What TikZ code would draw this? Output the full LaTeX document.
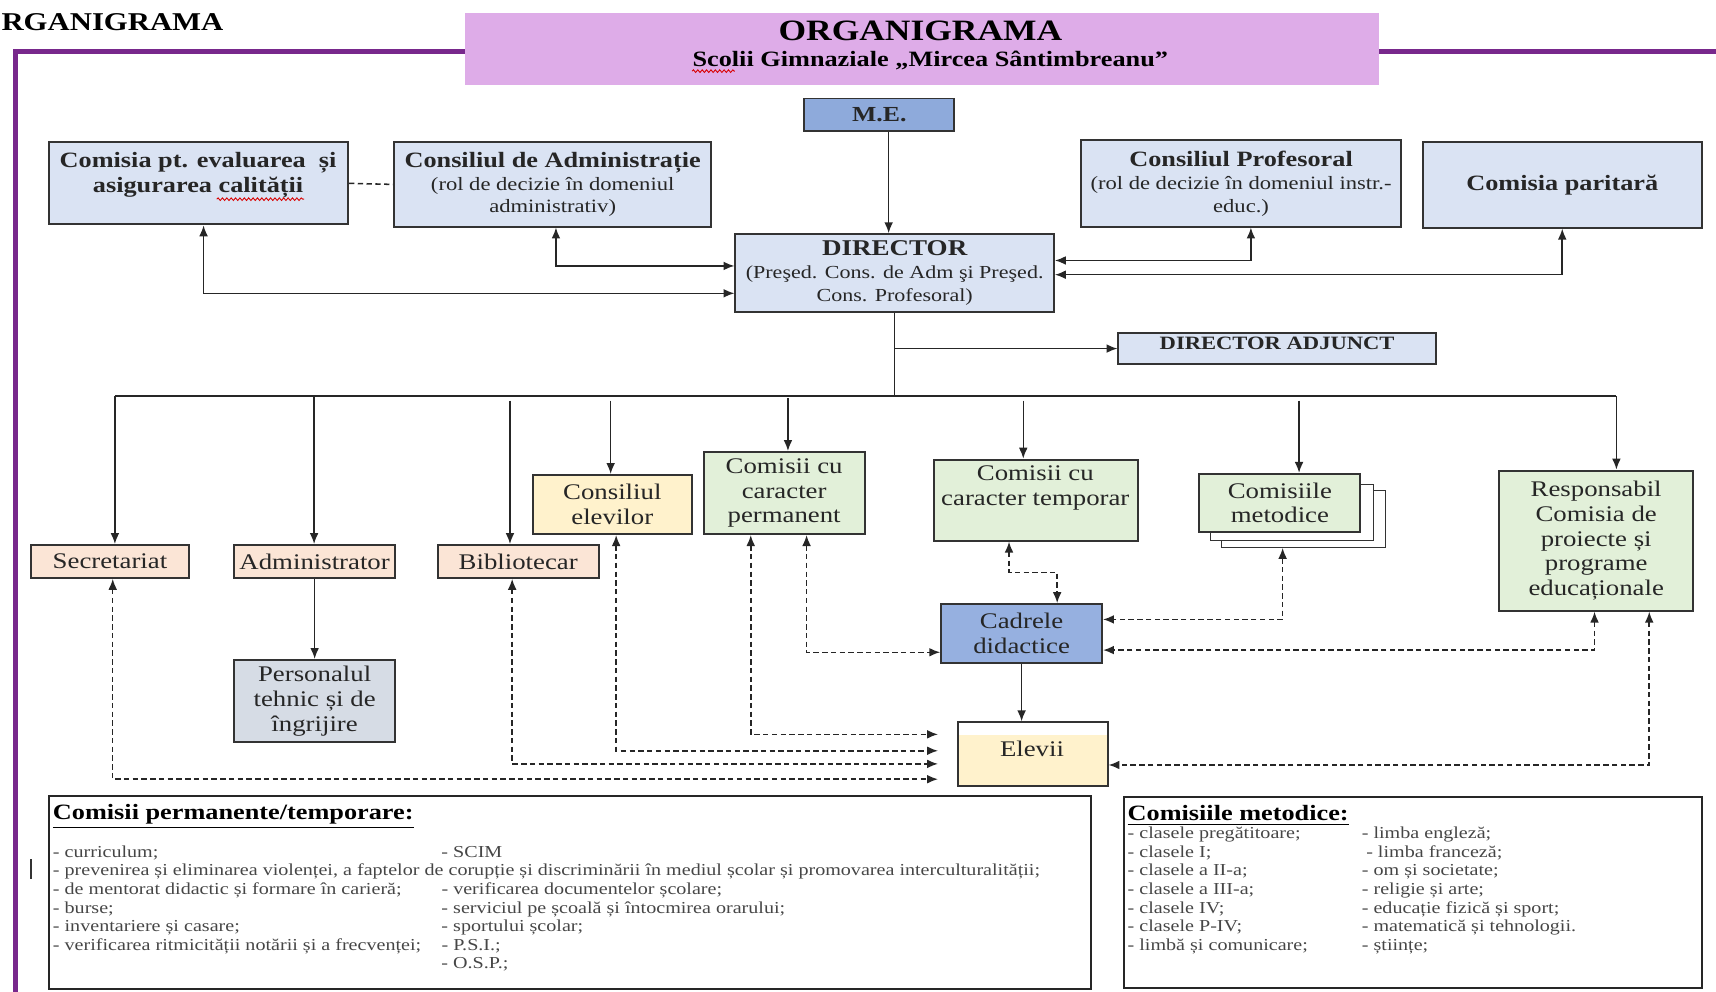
\documentclass[tikz,border=0pt]{standalone}
\usepackage{fontspec}
\setmainfont{Liberation Serif}[FakeStretch=1.2]
\usetikzlibrary{arrows.meta,calc,decorations.pathmorphing}
\definecolor{titlepurple}{RGB}{222,172,232}
\definecolor{framepurple}{RGB}{120,40,140}
\definecolor{meblue}{RGB}{142,170,219}
\definecolor{boxblue}{RGB}{218,227,243}
\definecolor{peach}{RGB}{251,229,214}
\definecolor{lyellow}{RGB}{255,242,204}
\definecolor{lgreen}{RGB}{226,240,217}
\definecolor{greyblue}{RGB}{214,220,229}
\definecolor{cadblue}{RGB}{150,176,224}
\definecolor{txtgrey}{RGB}{70,70,70}
\newcommand\fsz[2]{\fontsize{#1}{#2}\selectfont}
\newcommand\hdr{\fsz{10}{11.5}\bfseries}
\begin{document}
\begin{tikzpicture}[x=0.5pt,y=-0.5pt,
  bxat/.style n args={4}{minimum width={(#3-#1)*0.5pt}, minimum height={(#4-#2)*0.5pt}, at={({(#1+#3)/2},{(#2+#4)/2})}},
  orgbox/.style={draw=black!80, line width=0.9pt, inner sep=0pt, align=center, text=black!85, font=\fsz{10.2}{11.3}},
  lbl/.style={inner sep=0pt, align=center, text=black!85},
  conn/.style={line width=0.7pt, draw=black!85},
  dsh/.style={conn, dash pattern=on 2.5pt off 1.5pt},
  >={Latex[length=5pt,width=4pt]},
  squig/.style={red!85!black, line width=0.4pt, decorate, decoration={snake, amplitude=0.6pt, segment length=2pt}}
]
\useasboundingbox (0,0) rectangle (1568,906);
% frame
\draw[framepurple, line width=2pt, line cap=rect] (440,47) -- (14,47) -- (14,912);
\draw[framepurple, line width=2pt] (1250,47) -- (1580,47);
% top-left title
\node[anchor=base west, inner sep=0pt, font=\fsz{11.7}{14}\bfseries] (otl) at (1,28) {RGANIGRAMA};
% title box
\node[fill=titlepurple, inner sep=0pt, bxat={425}{12}{1260}{78}] (ttl) {};
\node[anchor=base, inner sep=0pt, font=\fsz{13.5}{16}\bfseries] (ttl1) at (841,37) {ORGANIGRAMA};
\node[anchor=base, inner sep=0pt, font=\fsz{10}{12}\bfseries] (ttl2) at (850,61) {Scolii Gimnaziale „Mircea Sântimbreanu”};
\draw[squig] (ttl2.base west) ++(0,4) -- ++(39,0);
% top row
\node[orgbox, fill=meblue, bxat={735}{90}{872}{120}, font=\fsz{9.8}{11}\bfseries] (me) {M.E.};
\node[orgbox, fill=boxblue, bxat={45}{130}{318}{205}] (cpe) {};
\node[lbl, font=\hdr] (cpet) at (181,160) {Comisia pt. evaluarea \ și\\asigurarea calității};
\draw[squig] (198,182) -- (278,182);
\node[orgbox, fill=boxblue, bxat={360}{130}{650}{207}, font=\fsz{8.6}{10.5}] (cad) {{\hdr Consiliul de Administrație}\\(rol de decizie în domeniul\\administrativ)};
\node[orgbox, fill=boxblue, bxat={988}{128}{1280}{207}, font=\fsz{8.6}{10.5}] (cpr) {{\hdr Consiliul Profesoral}\\(rol de decizie în domeniul instr.-\\educ.)};
\node[orgbox, fill=boxblue, bxat={1300}{130}{1555}{208}, font=\hdr] (cpar) {Comisia paritară};
\node[orgbox, fill=boxblue, bxat={672}{214}{963}{285}, font=\fsz{8.4}{10.5}] (dir) {{\fsz{10.3}{11.5}\bfseries DIRECTOR}\\(Preşed. Cons. de Adm şi Preşed.\\Cons. Profesoral)};
\node[orgbox, fill=boxblue, bxat={1022}{304}{1312}{333}] (dadj) {};
\node[lbl, font=\fsz{8.6}{10}\bfseries] (dadjt) at (1167,314) {DIRECTOR ADJUNCT};
% second row
\node[orgbox, fill=peach, bxat={28}{498}{173}{528}] (sec) {Secretariat};
\node[orgbox, fill=peach, bxat={214}{498}{361}{528}] (adm) {Administrator};
\node[orgbox, fill=peach, bxat={400}{498}{547}{528}] (bib) {Bibliotecar};
\node[orgbox, fill=lyellow, bxat={487}{434}{632}{488}] (cel) {Consiliul\\elevilor};
\node[orgbox, fill=lgreen, bxat={643}{413}{790}{488}] (cperm) {Comisii cu\\caracter\\permanent};
\node[orgbox, fill=lgreen, bxat={853}{420}{1040}{494}] (ctemp) {};
\node[lbl, font=\fsz{10.2}{11.3}] (ctempt) at (946,446) {Comisii cu\\caracter temporar};
\node[orgbox, fill=white, line width=0.6pt, bxat={1116}{448}{1266}{500}] (pg3) {};
\node[orgbox, fill=white, line width=0.6pt, bxat={1106}{443}{1255}{494}] (pg2) {};
\node[orgbox, fill=lgreen, bxat={1096}{433}{1243}{486}] (cmet) {Comisiile\\metodice};
\node[orgbox, fill=lgreen, bxat={1370}{430}{1547}{558}] (resp) {Responsabil\\Comisia de\\proiecte și\\programe\\educaționale};
\node[orgbox, fill=greyblue, bxat={214}{603}{361}{678}] (pers) {Personalul\\tehnic și de\\îngrijire};
\node[orgbox, fill=cadblue, bxat={860}{552}{1007}{606}] (cadre) {Cadrele\\didactice};
\node[orgbox, fill=white, bxat={875}{660}{1012}{718},
  path picture={\fill[lyellow] ([yshift=-6pt]path picture bounding box.north west) rectangle (path picture bounding box.south east);}] (elevii) {};
\node[lbl, font=\fsz{10.2}{11.3}] (elevit) at (943,684) {Elevii};
% solid connectors
\coordinate (meo) at ($(me.south)+(8.5,0)$);
\draw[conn,->] (meo) -- (meo |- dir.north);
\draw[conn,<->] ($(cpe.south)+(4.5,0)$) |- ($(dir.west)+(0,18.5)$);
\draw[conn,<->] ($(cad.south)+(3,0)$) |- ($(dir.west)+(0,-6.5)$);
\draw[conn,<->] ($(cpr.south)+(9,0)$) |- ($(dir.east)+(0,-11.5)$);
\draw[conn,<->] (cpar.south) |- ($(dir.east)+(0,1.5)$);
\draw[dsh] (cpe.east) -- (cad.west);
\coordinate (busC) at (818,362);
\coordinate (busL) at (105,362);
\coordinate (busR) at (1477,362);
\draw[conn] (dir.south) -- (dir.south |- busC);
\draw[conn,->] (dir.south |- dadj.west) -- (dadj.west);
\draw[conn] (busL) -- (busR);
\coordinate (bA) at (287,362);
\coordinate (bB) at (466,366);
\coordinate (bC) at (558,366);
\coordinate (bD) at (720,364);
\coordinate (bE) at (935,366);
\coordinate (bF) at (1187,366);
\draw[conn,->] (busL) -- (busL |- sec.north);
\draw[conn,->] (bA) -- (bA |- adm.north);
\draw[conn,->] (bB) -- (bB |- bib.north);
\draw[conn,->] (bC) -- (bC |- cel.north);
\draw[conn,->] (bD) -- (bD |- cperm.north);
\draw[conn,->] (bE) -- (bE |- ctemp.north);
\draw[conn,->] (bF) -- (bF |- cmet.north);
\draw[conn,->] (busR) -- (busR |- resp.north);
\draw[conn,->] (adm.south) -- (pers.north);
\draw[conn,->] (cadre.south) -- (cadre.south |- elevii.north);
% dashed connectors
\draw[dsh,<->] ($(ctemp.south)+(-24.5,0)$) -- ++(0,28) -| ($(cadre.north)+(32.5,0)$);
\draw[dsh,<->] ($(pg3.south)+(-19,0)$) |- ($(cadre.east)+(0,-13)$);
\draw[dsh,<->] ($(resp.south)+(-1.5,0)$) |- ($(cadre.east)+(0,15)$);
\draw[dsh,<->] ($(resp.south)+(48.5,0)$) |- ($(elevii.east)+(0,10)$);
\draw[dsh,<->] ($(cperm.south)+(20.5,0)$) |- ($(cadre.west)+(0,17)$);
\draw[dsh,<->,shorten >=8.5pt] ($(cperm.south)+(-30.5,0)$) |- ($(elevii.west)+(0,-18)$);
\draw[dsh,<->,shorten >=8.5pt] ($(cel.south)+(3.5,0)$) |- ($(elevii.west)+(0,-3)$);
\draw[dsh,<->,shorten >=8.5pt] ($(bib.south)+(-5.5,0)$) |- ($(elevii.west)+(0,9)$);
\draw[dsh,<->,shorten >=8.5pt] ($(sec.south)+(2.5,0)$) |- ($(elevii.west)+(0,23)$);
% bottom boxes
\node[draw=black!85, line width=0.8pt, inner sep=0pt, bxat={45}{727}{997}{904}] (cpt) {};
\node[draw=black!85, line width=0.8pt, inner sep=0pt, bxat={1027}{728}{1555}{903}] (cmt) {};
\node[anchor=base west, inner sep=0pt, font=\fsz{10}{12}\bfseries] (cpth) at (48,749) {\underline{Comisii permanente/temporare:}};
\node[anchor=north west, inner sep=0pt, font=\fsz{7.65}{8.5}, text=txtgrey] (cptl) at (48,771) {%
\begin{tabular}{@{}p{177.5pt}@{}l@{}}
- curriculum; & - SCIM\\
\multicolumn{2}{@{}l@{}}{- prevenirea și eliminarea violenței, a faptelor de corupție și discriminării în mediul școlar și promovarea interculturalității;}\\
- de mentorat didactic și formare în carieră; & - verificarea documentelor școlare;\\
- burse; & - serviciul pe școală și întocmirea orarului;\\
- inventariere și casare; & - sportului școlar;\\
- verificarea ritmicității notării și a frecvenței; & - P.S.I.;\\
 & - O.S.P.;
\end{tabular}};
\node[anchor=base west, inner sep=0pt, font=\fsz{10}{12}\bfseries] (cmth) at (1030,750) {\underline{Comisiile metodice:}};
\node[anchor=north west, inner sep=0pt, font=\fsz{7.65}{8.5}, text=txtgrey] (cmtl) at (1030,754) {%
\begin{tabular}{@{}p{107pt}@{}l@{}}
- clasele pregătitoare; & - limba engleză;\\
- clasele I; & \hspace{2pt}- limba franceză;\\
- clasele a II-a; & - om și societate;\\
- clasele a III-a; & - religie și arte;\\
- clasele IV; & - educație fizică și sport;\\
- clasele P-IV; & - matematică și tehnologii.\\
- limbă și comunicare; & - științe;
\end{tabular}};
\coordinate (barT) at (28,785);
\coordinate (barB) at (28,803);
\draw[line width=0.8pt, black!80] (barT) -- (barB);
\end{tikzpicture}
\end{document}
